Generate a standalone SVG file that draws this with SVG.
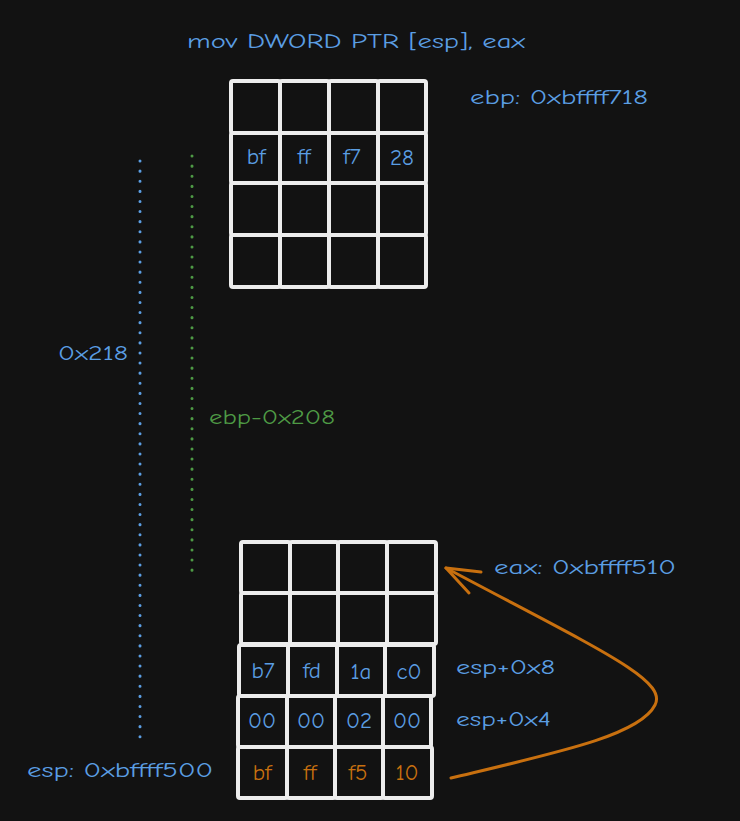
<svg xmlns="http://www.w3.org/2000/svg" width="740" height="821" viewBox="0 0 740 821">
<defs>
<style>
.cell{fill:none;stroke:#ececec;stroke-width:4;stroke-linejoin:round}
.t{font-family:"Comic Neue","Open Sans","Liberation Sans",sans-serif;font-size:20px;dominant-baseline:central}
.v{font-size:23px}
.b{fill:#5b9ee3}
.o{fill:#c8700f}
.g{fill:#4e9a45}
.c{text-anchor:middle}
</style>
</defs>
<rect width="740" height="821" fill="#121212"/>
<g id="labels">
<text class="t b" x="187" y="41" textLength="338" lengthAdjust="spacingAndGlyphs">mov DWORD PTR [esp], eax</text>
<text class="t b" x="470" y="97" textLength="178" lengthAdjust="spacingAndGlyphs">ebp: 0xbffff718</text>
<text class="t b" x="58" y="353" textLength="70" lengthAdjust="spacingAndGlyphs">0x218</text>
<text class="t g" x="209" y="417" textLength="126" lengthAdjust="spacingAndGlyphs">ebp-0x208</text>
<text class="t b" x="494" y="567" textLength="182" lengthAdjust="spacingAndGlyphs">eax: 0xbffff510</text>
<text class="t b" x="456" y="667" textLength="99" lengthAdjust="spacingAndGlyphs">esp+0x8</text>
<text class="t b" x="456" y="719" textLength="95" lengthAdjust="spacingAndGlyphs">esp+0x4</text>
<text class="t b" x="27" y="770" textLength="186" lengthAdjust="spacingAndGlyphs">esp: 0xbffff500</text>
</g>
<g id="ebp-frame">
<rect class="cell" x="231" y="81" width="49" height="52" rx="2"/>
<rect class="cell" x="280" y="81" width="49" height="52" rx="2"/>
<rect class="cell" x="329" y="81" width="49" height="52" rx="2"/>
<rect class="cell" x="378" y="81" width="48" height="52" rx="2"/>
<rect class="cell" x="231" y="133" width="49" height="50" rx="2"/>
<rect class="cell" x="280" y="133" width="49" height="50" rx="2"/>
<rect class="cell" x="329" y="133" width="49" height="50" rx="2"/>
<rect class="cell" x="378" y="133" width="48" height="50" rx="2"/>
<rect class="cell" x="231" y="183" width="49" height="52" rx="2"/>
<rect class="cell" x="280" y="183" width="49" height="52" rx="2"/>
<rect class="cell" x="329" y="183" width="49" height="52" rx="2"/>
<rect class="cell" x="378" y="183" width="48" height="52" rx="2"/>
<rect class="cell" x="231" y="235" width="49" height="52" rx="2"/>
<rect class="cell" x="280" y="235" width="49" height="52" rx="2"/>
<rect class="cell" x="329" y="235" width="49" height="52" rx="2"/>
<rect class="cell" x="378" y="235" width="48" height="52" rx="2"/>
<text class="t v b c" x="256" y="156">bf</text>
<text class="t v b c" x="304" y="156">ff</text>
<text class="t v b c" x="352" y="156">f7</text>
<text class="t v b c" x="402" y="157">28</text>
</g>
<g id="esp-frame-top">
<rect class="cell" x="241" y="542" width="49" height="51" rx="2"/>
<rect class="cell" x="290" y="542" width="48" height="51" rx="2"/>
<rect class="cell" x="338" y="542" width="49" height="51" rx="2"/>
<rect class="cell" x="387" y="542" width="49" height="51" rx="2"/>
<rect class="cell" x="241" y="593" width="49" height="51" rx="2"/>
<rect class="cell" x="290" y="593" width="48" height="51" rx="2"/>
<rect class="cell" x="338" y="593" width="49" height="51" rx="2"/>
<rect class="cell" x="387" y="593" width="49" height="51" rx="2"/>
</g>
<g id="esp-plus-8">
<rect class="cell" x="239" y="645" width="49" height="51" rx="2"/>
<rect class="cell" x="288" y="645" width="49" height="51" rx="2"/>
<rect class="cell" x="337" y="645" width="48" height="51" rx="2"/>
<rect class="cell" x="385" y="645" width="49" height="51" rx="2"/>
<text class="t v b c" x="263" y="670">b7</text>
<text class="t v b c" x="312" y="670">fd</text>
<text class="t v b c" x="361" y="671">1a</text>
<text class="t v b c" x="409" y="671">c0</text>
</g>
<g id="esp-plus-4">
<rect class="cell" x="238" y="696" width="49" height="51" rx="2"/>
<rect class="cell" x="287" y="696" width="48" height="51" rx="2"/>
<rect class="cell" x="335" y="696" width="48" height="51" rx="2"/>
<rect class="cell" x="383" y="696" width="48" height="51" rx="2"/>
<text class="t v b c" x="262" y="720">00</text>
<text class="t v b c" x="311" y="720">00</text>
<text class="t v b c" x="359" y="720">02</text>
<text class="t v b c" x="407" y="720">00</text>
</g>
<g id="esp">
<rect class="cell" x="238" y="747" width="49" height="51" rx="2"/>
<rect class="cell" x="287" y="747" width="48" height="51" rx="2"/>
<rect class="cell" x="335" y="747" width="48" height="51" rx="2"/>
<rect class="cell" x="383" y="747" width="49" height="51" rx="2"/>
<text class="t v o c" x="262" y="772">bf</text>
<text class="t v o c" x="310" y="772">ff</text>
<text class="t v o c" x="358" y="772">f5</text>
<text class="t v o c" x="407" y="772">10</text>
</g>
<g id="connectors" fill="none" stroke-linecap="round">
<line x1="140" y1="161" x2="140" y2="738" stroke="#5b9ee3" stroke-width="3" stroke-dasharray="0.1 10"/>
<line x1="192" y1="156" x2="192" y2="574" stroke="#4e9a45" stroke-width="3" stroke-dasharray="0.1 10"/>
<path d="M451,778 C560,752 640,735 655,705 C668,680 600,650 446,568" stroke="#c8700f" stroke-width="3"/>
<path d="M481,572 L446,568 L469,593" stroke="#c8700f" stroke-width="3" stroke-linejoin="round"/>
</g>
</svg>
